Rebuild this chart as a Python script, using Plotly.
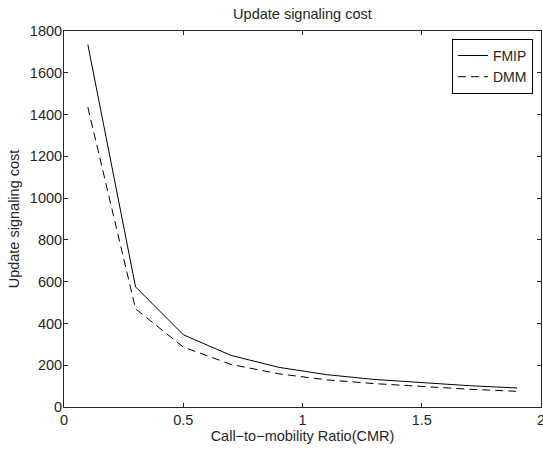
import plotly.graph_objects as go

cmr = [0.1, 0.3, 0.5, 0.7, 0.9, 1.1, 1.3, 1.5, 1.7, 1.9]
fmip = [1735, 575, 346, 247, 190, 155, 132, 116, 102, 91]
dmm = [1435, 470, 287, 204, 159, 130, 112, 97, 85, 75]
x_ticks = [0, 0.5, 1, 1.5, 2]
x_tick_text = ["0", "0.5", "1", "1.5", "2"]
y_ticks = [0, 200, 400, 600, 800, 1000, 1200, 1400, 1600, 1800]

FONT = "Liberation Sans, Arial, Helvetica, sans-serif"
TXT = "#262626"

fig = go.Figure()
fig.add_trace(go.Scatter(x=cmr, y=fmip, mode="lines", name="FMIP",
                         line=dict(color="black", width=1)))
fig.add_trace(go.Scatter(x=cmr, y=dmm, mode="lines", name="DMM",
                         line=dict(color="black", width=1, dash="8px,5px")))

axis_common = dict(showline=True, linecolor=TXT, linewidth=1, mirror="ticks",
                   ticks="inside", ticklen=4, tickcolor=TXT, tickwidth=1,
                   showgrid=False, zeroline=False, automargin=False,
                   ticklabeloverflow="allow",
                   tickfont=dict(family=FONT, size=14.5, color=TXT))

fig.update_layout(
    width=543, height=449,
    margin=dict(l=64, r=2, t=31, b=42, autoexpand=False),
    paper_bgcolor="white", plot_bgcolor="white",
    font=dict(family=FONT, size=14.5, color=TXT),
    title=dict(text="Update signaling cost", x=0.557, xanchor="center",
               y=1 - 14 / 449, yanchor="middle", yref="container",
               font=dict(family=FONT, size=14.5, color=TXT)),
    xaxis=dict(range=[0, 2], tickvals=x_ticks, ticktext=x_tick_text,
               title=dict(text="Call\u2212to\u2212mobility Ratio(CMR)", standoff=2,
                          font=dict(family=FONT, size=14.5, color=TXT)),
               **axis_common),
    yaxis=dict(range=[0, 1800], tickvals=y_ticks, ticklabelstandoff=-2,
               title=dict(text="Update signaling cost", standoff=6,
                          font=dict(family=FONT, size=14.5, color=TXT)),
               **axis_common),
    legend=dict(x=0.983, y=0.979, xanchor="right", yanchor="top",
                bordercolor="black", borderwidth=1, bgcolor="white",
                font=dict(family=FONT, size=14, color=TXT),
                itemwidth=30, tracegroupgap=0),
    showlegend=True,
)

fig.write_html("out.html", config={"displayModeBar": False},
               post_script="document.body.style.margin='0';document.body.style.padding='0';")
